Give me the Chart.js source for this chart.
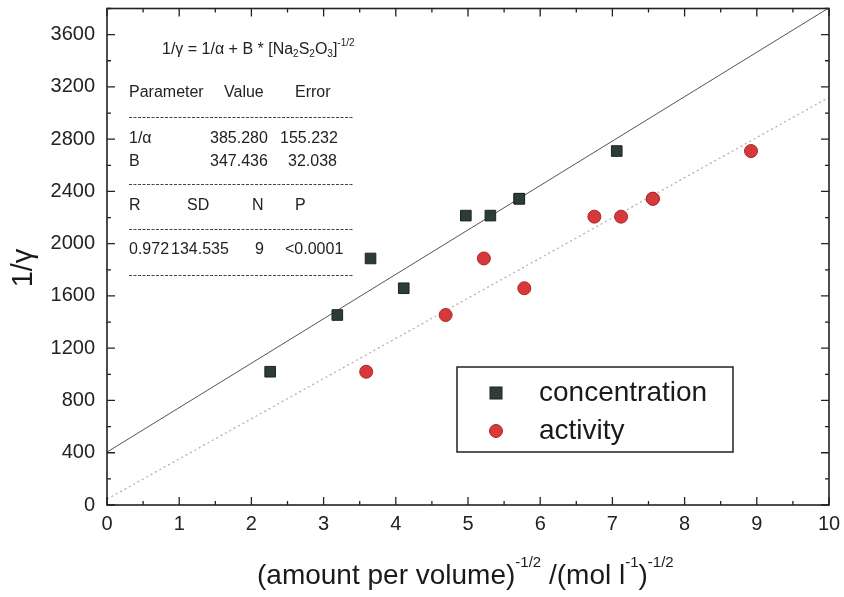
<!DOCTYPE html>
<html>
<head>
<meta charset="utf-8">
<script src="https://cdn.jsdelivr.net/npm/chart.js@4.4.1/dist/chart.umd.min.js"></script>
<style>
  html, body { margin: 0; padding: 0; background: #fff; }
  #wrap { width: 844px; height: 597px; }
</style>
</head>
<body>
<div id="wrap"><canvas id="fitChart" width="844" height="597"></canvas></div>
<script>
// ==================== DATA ====================
const xTicks = [0, 1, 2, 3, 4, 5, 6, 7, 8, 9, 10];
const yTicks = [0, 400, 800, 1200, 1600, 2000, 2400, 2800, 3200, 3600];

const concX = [2.26, 3.19, 3.65, 4.11, 4.97, 5.31, 5.71, 5.71, 7.06];
const concY = [1020, 1454, 1887, 1659, 2215, 2215, 2344, 2344, 2709];

const actX = [3.59, 4.69, 5.22, 5.78, 6.75, 7.12, 7.56, 7.56, 8.92];
const actY = [1020, 1454, 1887, 1659, 2207, 2207, 2344, 2344, 2709];

// fit lines, endpoints
const concFitX = [0, 9.97];
const concFitY = [405, 3795];
const actFitX = [0, 10];
const actFitY = [45, 3120];

const seriesNames = ["concentration", "activity"];

const tableRows = [
    { y: 93,  cells: [[129, "Parameter"], [224, "Value"], [295, "Error"]] },
    { y: 139, cells: [[129, "1/\u03b1"], [210, "385.280"], [280, "155.232"]] },
    { y: 162, cells: [[129, "B"], [210, "347.436"], [288, "32.038"]] },
    { y: 206, cells: [[129, "R"], [187, "SD"], [252, "N"], [295, "P"]] },
    { y: 250, cells: [[129, "0.972"], [171, "134.535"], [255, "9"], [285, "<0.0001"]] },
];
const dashRows = [117, 184, 229, 275];

const pts = (xs, ys) => xs.map((v, i) => ({ x: v, y: ys[i] }));

const FONT = "Arial, 'Liberation Sans', sans-serif";
const SQ_FILL = "#2c3d38", SQ_EDGE = "#1b2522";
const CI_FILL = "#d7393a", CI_EDGE = "#a8282a";

// ==================== RICH TEXT ====================
// parts: [text, "n" | "sub" | "sup"]
function drawRich(ctx, parts, x, y, size, small, supDy, subDy) {
    let cx = x;
    parts.forEach(([t, m]) => {
        ctx.font = `${m === "n" ? size : small}px ${FONT}`;
        const dy = m === "sup" ? supDy : (m === "sub" ? subDy : 0);
        ctx.fillText(t, cx, y + dy);
        cx += ctx.measureText(t).width;
    });
}

// ==================== DECORATION PLUGIN ====================
const framePlugin = {
    id: "frame",
    afterDraw(chart) {
        const { ctx, chartArea: a, scales: { x, y } } = chart;
        ctx.save();
        ctx.strokeStyle = "#222";
        ctx.fillStyle = "#222";

        // frame
        ctx.lineWidth = 1.6;
        ctx.strokeRect(a.left, a.top, a.right - a.left, a.bottom - a.top);

        // inward ticks on all four sides
        ctx.lineWidth = 1.3;
        const tick = (px, len, vertical) => {
            ctx.beginPath();
            if (vertical) {
                ctx.moveTo(px, a.bottom); ctx.lineTo(px, a.bottom - len);
                ctx.moveTo(px, a.top); ctx.lineTo(px, a.top + len);
            } else {
                ctx.moveTo(a.left, px); ctx.lineTo(a.left + len, px);
                ctx.moveTo(a.right, px); ctx.lineTo(a.right - len, px);
            }
            ctx.stroke();
        };
        xTicks.forEach((v, i) => {
            tick(x.getPixelForValue(v), 8, true);
            if (i < xTicks.length - 1) tick(x.getPixelForValue((v + xTicks[i + 1]) / 2), 4, true);
        });
        yTicks.forEach((v, i) => {
            tick(y.getPixelForValue(v), 8, false);
            const next = i < yTicks.length - 1 ? yTicks[i + 1] : y.max + 200;
            const mid = (v + next) / 2;
            if (mid <= y.max) tick(y.getPixelForValue(mid), 4, false);
        });

        // formula
        ctx.fillStyle = "#222";
        ctx.textBaseline = "middle";
        ctx.textAlign = "left";
        drawRich(ctx, [["1/\u03b3 = 1/\u03b1 + B * [Na", "n"], ["2", "sub"], ["S", "n"], ["2", "sub"],
                       ["O", "n"], ["3", "sub"], ["]", "n"], ["-1/2", "sup"]], 162, 50, 16, 10, -7, 4);

        // parameter table
        ctx.font = `16px ${FONT}`;
        tableRows.forEach(r => r.cells.forEach(([cx, t]) => ctx.fillText(t, cx, r.y)));
        ctx.lineWidth = 1;
        ctx.setLineDash([3, 1.5]);
        ctx.strokeStyle = "#444";
        dashRows.forEach(yy => {
            ctx.beginPath();
            ctx.moveTo(129, yy + 0.5); ctx.lineTo(353, yy + 0.5);
            ctx.stroke();
        });
        ctx.setLineDash([]);

        // legend box
        ctx.strokeStyle = "#222";
        ctx.lineWidth = 1.5;
        ctx.strokeRect(457, 367, 276, 85);
        ctx.fillStyle = SQ_FILL;
        ctx.strokeStyle = SQ_EDGE;
        ctx.lineWidth = 1;
        ctx.fillRect(490, 387, 12, 12);
        ctx.strokeRect(490, 387, 12, 12);
        ctx.fillStyle = CI_FILL;
        ctx.strokeStyle = CI_EDGE;
        ctx.beginPath();
        ctx.arc(496, 431, 6.5, 0, Math.PI * 2);
        ctx.fill(); ctx.stroke();
        ctx.fillStyle = "#1a1a1a";
        ctx.font = `28px ${FONT}`;
        ctx.fillText(seriesNames[0], 539, 393);
        ctx.fillText(seriesNames[1], 539, 431);

        // y axis title
        ctx.save();
        ctx.translate(32, 268);
        ctx.rotate(-Math.PI / 2);
        ctx.textAlign = "center";
        ctx.textBaseline = "alphabetic";
        ctx.font = `29px ${FONT}`;
        ctx.fillText("1/\u03b3", 0, 0);
        ctx.restore();

        // x axis title
        ctx.textBaseline = "alphabetic";
        ctx.textAlign = "left";
        drawRich(ctx, [["(amount per volume)", "n"], ["-1/2", "sup"], [" /(mol l", "n"],
                       ["-1", "sup"], [")", "n"], ["-1/2", "sup"]], 257, 584, 28, 15, -17, 0);

        ctx.restore();
    }
};

// ==================== CHART ====================
const ctx = document.getElementById("fitChart").getContext("2d");
new Chart(ctx, {
    type: "scatter",
    data: {
        datasets: [
            {
                label: "concentration fit",
                data: pts(concFitX, concFitY),
                showLine: true,
                borderColor: "#555",
                borderWidth: 1,
                pointRadius: 0,
                order: 3,
            },
            {
                label: "activity fit",
                data: pts(actFitX, actFitY),
                showLine: true,
                borderColor: "rgba(190,160,165,0.9)",
                borderDash: [2, 3],
                borderWidth: 1.3,
                pointRadius: 0,
                order: 3,
            },
            {
                label: seriesNames[0],
                data: pts(concX, concY),
                pointStyle: "rect",
                pointRadius: 7.5,
                backgroundColor: SQ_FILL,
                borderColor: SQ_EDGE,
                borderWidth: 1,
                order: 1,
            },
            {
                label: seriesNames[1],
                data: pts(actX, actY),
                pointStyle: "circle",
                pointRadius: 6.5,
                backgroundColor: CI_FILL,
                borderColor: CI_EDGE,
                borderWidth: 1,
                order: 1,
            },
        ],
    },
    options: {
        responsive: false,
        animation: false,
        layout: { padding: { left: 0, right: 15, top: 6, bottom: 0 } },
        plugins: {
            legend: { display: false },
            tooltip: { enabled: false },
        },
        scales: {
            x: {
                type: "linear",
                min: 0,
                max: 10,
                afterBuildTicks: s => { s.ticks = xTicks.map(v => ({ value: v })); },
                afterFit: s => { s.height = 92; s.paddingLeft = 0; s.paddingRight = 0; },
                grid: { display: false, drawTicks: false },
                border: { display: false },
                ticks: { padding: 7, color: "#222", font: { size: 20, family: FONT }, callback: v => String(v) },
            },
            y: {
                type: "linear",
                min: 0,
                max: 3800,
                afterBuildTicks: s => { s.ticks = yTicks.map(v => ({ value: v })); },
                afterFit: s => { s.width = 107; s.paddingTop = 0; s.paddingBottom = 0; },
                grid: { display: false, drawTicks: false },
                border: { display: false },
                ticks: { padding: 12, color: "#222", font: { size: 20, family: FONT }, callback: v => String(v) },
            },
        },
    },
    plugins: [framePlugin],
});
</script>
</body>
</html>
